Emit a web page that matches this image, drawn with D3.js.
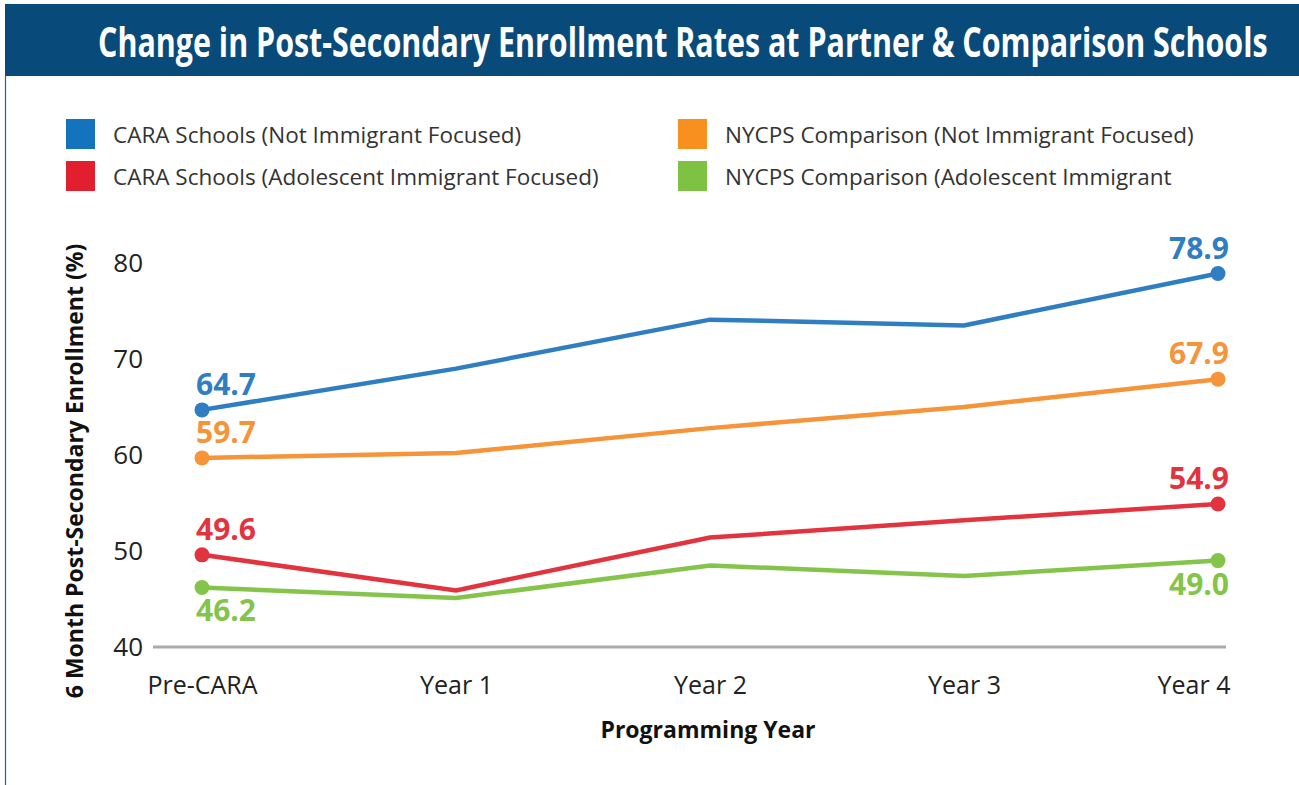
<!DOCTYPE html>
<html>
<head>
<meta charset="utf-8">
<script src="https://cdn.jsdelivr.net/npm/d3@7"></script>
<style>
  html, body { margin: 0; padding: 0; background: #fff; }
  svg { display: block; }
</style>
</head>
<body>
<svg id="chart" width="1299" height="785"></svg>
<script>
// Data
const YEARS = ["Pre-CARA", "Year 1", "Year 2", "Year 3", "Year 4"];
const Y_TICKS = [40, 50, 60, 70, 80];

const cara_not   = [64.7, 69.0, 74.1, 73.5, 78.9];
const nycps_not  = [59.7, 60.2, 62.8, 65.0, 67.9];
const cara_imm   = [49.6, 45.9, 51.4, 53.2, 54.9];
const nycps_imm  = [46.2, 45.1, 48.5, 47.4, 49.0];

const SERIES_NAMES = [
  "CARA Schools (Not Immigrant Focused)",
  "NYCPS Comparison (Not Immigrant Focused)",
  "CARA Schools (Adolescent Immigrant Focused)",
  "NYCPS Comparison (Adolescent Immigrant"
];

const series = [
  { name: SERIES_NAMES[0], values: cara_not,  line: "#2f7ec1", swatch: "#1373bd", below: [false, false] },
  { name: SERIES_NAMES[1], values: nycps_not, line: "#f6943a", swatch: "#f7901e", below: [false, false] },
  { name: SERIES_NAMES[2], values: cara_imm,  line: "#e2343f", swatch: "#e21f2f", below: [false, false] },
  { name: SERIES_NAMES[3], values: nycps_imm, line: "#84c44a", swatch: "#7dc242", below: [true, true] }
];

// Setup
const svg = d3.select("#chart");
const W = 1299, H = 785;

const x = d3.scalePoint().domain(YEARS).range([202, 1218]);
const y = d3.scaleLinear().domain([40, 80]).range([647, 263]);

// header band
svg.append("rect")
  .attr("x", 5).attr("y", 4).attr("width", W - 5).attr("height", 72)
  .attr("fill", "#084a79");
svg.append("line")
  .attr("x1", 5.5).attr("x2", 5.5).attr("y1", 76).attr("y2", H)
  .attr("stroke", "#2a5f8f").attr("stroke-width", 1.2);

// condensed title: full-height font squeezed horizontally to ~1170px
const titleG = svg.append("g");
const title = titleG.append("text")
  .attr("fill", "#fff")
  .attr("font-family", "'Open Sans', sans-serif")
  .attr("font-weight", "bold")
  .attr("font-size", "41px")
  .text("Change in Post-Secondary Enrollment Rates at Partner & Comparison Schools");
const tw = title.node().getComputedTextLength();
titleG.attr("transform", `translate(98,57) scale(${(1170 / tw).toFixed(4)},1)`);

// legend (2 columns x 2 rows)
const legend = svg.append("g");
series.forEach((s, i) => {
  const col = i % 2, row = Math.floor(i / 2);
  const lx = col === 0 ? 66 : 678;
  const ly = 119 + row * 42;
  const g = legend.append("g").attr("transform", `translate(${lx},${ly})`);
  g.append("rect").attr("width", 29).attr("height", 30).attr("fill", s.swatch);
  g.append("text")
    .attr("x", 47).attr("y", 24)
    .attr("fill", "#333")
    .attr("font-family", "'Liberation Sans Narrow', 'Open Sans', sans-serif")
    .attr("font-size", "22.5px")
    .text(s.name);
});

// baseline (y = 40)
svg.append("line")
  .attr("x1", 153).attr("x2", 1226)
  .attr("y1", y(40)).attr("y2", y(40))
  .attr("stroke", "#aaaaad").attr("stroke-width", 3);

// y axis labels
const yAxisG = svg.append("g").attr("transform", "translate(143,0)");
yAxisG.call(d3.axisLeft(y).tickValues(Y_TICKS).tickSize(0).tickPadding(0))
  .call(g => g.select(".domain").remove())
  .call(g => g.selectAll("text")
    .attr("fill", "#222")
    .attr("font-size", "26px")
    .attr("font-family", "'Open Sans', sans-serif"));

// x axis labels
const xAxisG = svg.append("g").attr("transform", "translate(0,676)");
xAxisG.call(d3.axisBottom(x).tickSize(0).tickPadding(0))
  .call(g => g.select(".domain").remove())
  .call(g => g.selectAll("text")
    .attr("fill", "#222")
    .attr("font-size", "25px")
    .attr("font-family", "'Open Sans', sans-serif"))
  .call(g => g.selectAll(".tick text")
    .filter(d => d === YEARS[YEARS.length - 1])
    .attr("text-anchor", "end").attr("dx", 12));

// axis titles
svg.append("text")
  .attr("transform", "translate(83,471) rotate(-90)")
  .attr("text-anchor", "middle")
  .attr("fill", "#111")
  .attr("font-family", "'Open Sans', sans-serif")
  .attr("font-weight", "bold")
  .attr("font-size", "23px")
  .text("6 Month Post-Secondary Enrollment (%)");

svg.append("text")
  .attr("x", 708).attr("y", 738)
  .attr("text-anchor", "middle")
  .attr("fill", "#111")
  .attr("font-family", "'Open Sans', sans-serif")
  .attr("font-weight", "bold")
  .attr("font-size", "23px")
  .text("Programming Year");

// lines
const line = d3.line()
  .x((d, i) => x(YEARS[i]))
  .y(d => y(d));

const plot = svg.append("g");
series.forEach(s => {
  plot.append("path")
    .attr("d", line(s.values))
    .attr("fill", "none")
    .attr("stroke", s.line)
    .attr("stroke-width", 4.5);

  const ends = [0, s.values.length - 1];
  ends.forEach((idx, k) => {
    const px = x(YEARS[idx]), py = y(s.values[idx]);
    plot.append("circle")
      .attr("cx", px).attr("cy", py).attr("r", 7.5)
      .attr("fill", s.line);
    plot.append("text")
      .attr("x", k === 0 ? px + 24 : px + 11)
      .attr("y", s.below[k] ? py + 34 : py - 15)
      .attr("text-anchor", k === 0 ? "middle" : "end")
      .attr("fill", s.line)
      .attr("font-family", "'Open Sans', sans-serif")
      .attr("font-weight", "bold")
      .attr("font-size", "30px")
      .text(s.values[idx].toFixed(1));
  });
});
</script>
</body>
</html>
